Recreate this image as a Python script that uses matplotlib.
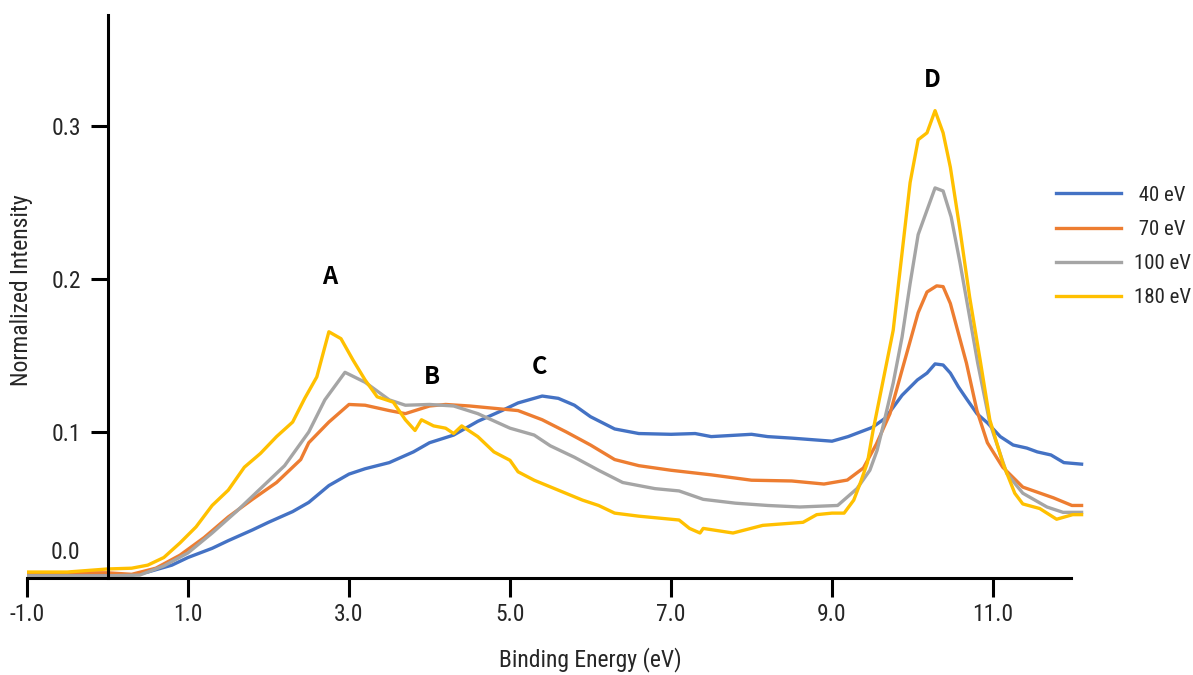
import matplotlib
matplotlib.use("Agg")
import matplotlib.pyplot as plt
from matplotlib import font_manager as fm

# 40 eV
x40 = [-1.0, -0.5, 0.0, 0.3, 0.5, 0.8, 1.0, 1.3, 1.5, 1.8, 2.0, 2.3, 2.5, 2.75, 3.0, 3.2, 3.5, 3.8,
       4.0, 4.3, 4.6, 4.9, 5.1, 5.3, 5.4, 5.6, 5.8, 6.0, 6.3, 6.6, 7.0, 7.3, 7.5, 8.0, 8.2, 8.5, 9.0,
       9.2, 9.5, 9.66, 9.87, 10.06, 10.18, 10.28, 10.38, 10.47, 10.57, 10.68, 10.8, 10.93, 11.09,
       11.25, 11.42, 11.55, 11.72, 11.88, 12.1]
y40 = [0.006, 0.006, 0.006, 0.0065, 0.0085, 0.013, 0.018, 0.024, 0.029, 0.036, 0.041, 0.048, 0.054,
       0.065, 0.0725, 0.076, 0.080, 0.087, 0.093, 0.098, 0.107, 0.114, 0.119, 0.122, 0.1235, 0.122,
       0.1175, 0.110, 0.102, 0.099, 0.0985, 0.099, 0.097, 0.0985, 0.097, 0.096, 0.094, 0.097, 0.103,
       0.109, 0.124, 0.134, 0.1385, 0.1445, 0.1438, 0.1385, 0.1295, 0.121, 0.112, 0.106, 0.097,
       0.0915, 0.0895, 0.087, 0.085, 0.080, 0.079]

# 70 eV
x70 = [-1.0, -0.5, 0.0, 0.3, 0.6, 0.9, 1.2, 1.5, 1.8, 2.1, 2.4, 2.5, 2.75, 3.0, 3.2, 3.5, 3.7, 4.0,
       4.2, 4.5, 4.8, 5.1, 5.4, 5.7, 6.0, 6.3, 6.6, 7.0, 7.5, 8.0, 8.5, 8.9, 9.19, 9.39, 9.55, 9.72,
       9.87, 10.07, 10.18, 10.3, 10.38, 10.47, 10.67, 10.8, 10.93, 11.12, 11.37, 11.75, 11.98, 12.1]
y70 = [0.008, 0.008, 0.008, 0.007, 0.011, 0.0195, 0.031, 0.0445, 0.056, 0.067, 0.082, 0.093, 0.1065,
       0.118, 0.1175, 0.114, 0.112, 0.117, 0.118, 0.117, 0.1155, 0.114, 0.108, 0.100, 0.0915, 0.082,
       0.078, 0.075, 0.072, 0.0685, 0.068, 0.066, 0.0686, 0.0765, 0.092, 0.112, 0.1405, 0.178,
       0.1915, 0.1955, 0.195, 0.184, 0.145, 0.114, 0.093, 0.077, 0.064, 0.057, 0.052, 0.052]

# 100 eV
x100 = [-1.0, -0.5, 0.0, 0.4, 0.7, 1.0, 1.3, 1.6, 1.9, 2.2, 2.5, 2.7, 2.95, 3.2, 3.5, 3.7, 4.0, 4.3,
        4.6, 5.0, 5.3, 5.5, 5.8, 6.1, 6.4, 6.8, 7.1, 7.4, 7.8, 8.2, 8.6, 9.07, 9.31, 9.47, 9.56, 9.63,
        9.76, 9.87, 9.97, 10.07, 10.18, 10.28, 10.38, 10.48, 10.59, 10.71, 10.81, 10.96, 11.17,
        11.37, 11.67, 11.87, 12.1]
y100 = [0.006, 0.006, 0.006, 0.0065, 0.0125, 0.021, 0.034, 0.048, 0.063, 0.078, 0.100, 0.121, 0.139,
        0.1325, 0.121, 0.1175, 0.118, 0.117, 0.112, 0.1025, 0.098, 0.091, 0.0835, 0.075, 0.067,
        0.063, 0.0615, 0.056, 0.0535, 0.052, 0.051, 0.052, 0.063, 0.075, 0.088, 0.103, 0.132, 0.162,
        0.197, 0.229, 0.245, 0.2595, 0.2575, 0.2405, 0.2105, 0.175, 0.145, 0.106, 0.073, 0.060,
        0.051, 0.0475, 0.0475]

# 180 eV
x180 = [-1.0, -0.5, 0.0, 0.3, 0.5, 0.7, 0.9, 1.1, 1.3, 1.5, 1.7, 1.9, 2.1, 2.3, 2.45, 2.6, 2.75, 2.9,
        3.05, 3.2, 3.35, 3.55, 3.7, 3.82, 3.9, 4.05, 4.2, 4.3, 4.4, 4.6, 4.8, 5.0, 5.1, 5.3, 5.6, 5.9,
        6.1, 6.3, 6.6, 6.8, 7.1, 7.23, 7.36, 7.4, 7.77, 8.14, 8.64, 8.81, 9.0, 9.15, 9.27, 9.35, 9.44,
        9.51, 9.76, 9.97, 10.07, 10.18, 10.28, 10.38, 10.47, 10.59, 10.71, 10.84, 10.96, 11.12,
        11.27, 11.37, 11.58, 11.79, 11.99, 12.1]
y180 = [0.0085, 0.0085, 0.0105, 0.011, 0.013, 0.018, 0.0275, 0.038, 0.052, 0.062, 0.077, 0.086,
        0.097, 0.1065, 0.122, 0.136, 0.1655, 0.161, 0.147, 0.134, 0.123, 0.1195, 0.108, 0.101,
        0.108, 0.104, 0.1025, 0.099, 0.104, 0.097, 0.087, 0.0815, 0.074, 0.0685, 0.062, 0.0555,
        0.052, 0.047, 0.045, 0.044, 0.0425, 0.037, 0.034, 0.037, 0.034, 0.039, 0.041, 0.046, 0.047,
        0.047, 0.0555, 0.0665, 0.08, 0.101, 0.1665, 0.263, 0.291, 0.2955, 0.31, 0.2955, 0.273,
        0.232, 0.188, 0.147, 0.108, 0.080, 0.060, 0.053, 0.050, 0.043, 0.046, 0.046]

series = [(x40, y40, " 40 eV", "#4472C4"),
          (x70, y70, " 70 eV", "#ED7D31"),
          (x100, y100, "100 eV", "#A5A5A5"),
          (x180, y180, "180 eV", "#FFC000")]

peak_labels = ["A", "B", "C", "D"]
peak_x = [2.76, 4.03, 5.37, 10.24]
peak_y = [0.201, 0.136, 0.1425, 0.330]

xticks = [-1.0, 1.0, 3.0, 5.0, 7.0, 9.0, 11.0]
yticks = [0.1, 0.2, 0.3]


# look for a narrow sans face, the original uses something like Arial Narrow
def narrow_font():
    prefs = ["Liberation Sans Narrow", "Arial Narrow", "Roboto Condensed",
             "Open Sans Condensed", "Noto Sans Condensed", "DejaVu Sans Condensed"]
    fonts = fm.fontManager.ttflist
    ok = lambda f: f.style == "normal" and str(f.weight) in ("400", "normal", "regular")
    for p in prefs:
        for f in fonts:
            if f.name == p and ok(f):
                return f.fname
    for f in fonts:
        if f.stretch in ("condensed", "semi-condensed") and ok(f) \
                and "Mono" not in f.name and "Serif" not in f.name:
            return f.fname
    return None


nf = narrow_font()
if nf:
    def fp(size):
        return fm.FontProperties(fname=nf, size=size)
    big, small = 17, 15
else:
    def fp(size):
        return fm.FontProperties(family="Liberation Sans", size=size)
    big, small = 15, 13

txt_col = "#262626"

W, H = 1193, 675
fig = plt.figure(figsize=(W / 100, H / 100), dpi=100)
ax = fig.add_axes([27 / W, 97 / H, (1085.6 - 27) / W, 563 / H])

for xs, ys, lab, col in series:
    ax.plot(xs, ys, color=col, lw=2.4, label=lab)

ax.set_xlim(-1.0, 12.15)
ax.set_ylim(0.0046, 0.3725)

for s in ["top", "right"]:
    ax.spines[s].set_visible(False)
ax.spines["left"].set_position(("data", 0))
ax.spines["bottom"].set_bounds(-1.0, 11.97)
for s in ["left", "bottom"]:
    ax.spines[s].set_linewidth(2.2)
    ax.spines[s].set_color("black")

ax.set_xticks(xticks)
ax.set_xticklabels(["%.1f" % v for v in xticks], fontproperties=fp(big), color=txt_col)
ax.set_yticks(yticks)
ax.set_yticklabels(["%.1f" % v for v in yticks], fontproperties=fp(big), color=txt_col)
ax.tick_params(axis="x", direction="out", length=13.7, width=2.2, pad=4)
ax.tick_params(axis="y", direction="out", length=12.2, width=2.2, pad=7)

ax.text(-0.34, 0.021, "0.0", ha="right", va="center", fontproperties=fp(big), color=txt_col)

for lab, px, py in zip(peak_labels, peak_x, peak_y):
    ax.text(px, py, lab, ha="center", va="center", fontsize=17, fontweight="bold",
            family=["Noto Sans CJK SC", "DejaVu Sans"], color="black")

fig.text(22 / W, 1 - 290 / H, "Normalized Intensity", rotation=90, ha="center", va="center",
         fontproperties=fp(big), color=txt_col)
fig.text(590 / W, 1 - 660 / H, "Binding Energy (eV)", ha="center", va="center",
         fontproperties=fp(big), color=txt_col)

leg = fig.legend(loc="center left", bbox_to_anchor=(1056 / W, 1 - 246.5 / H), frameon=False,
                 borderpad=0, borderaxespad=0, handlelength=3.1, handletextpad=0.65,
                 labelspacing=0.73, prop=fp(small))
for t in leg.get_texts():
    t.set_color(txt_col)

fig.savefig("out.png", dpi=100)
